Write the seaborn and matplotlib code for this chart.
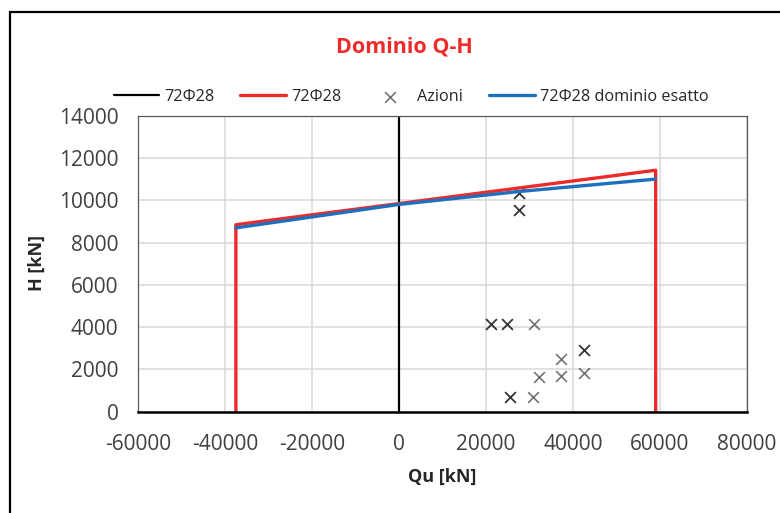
import matplotlib
matplotlib.use("Agg")
import matplotlib.pyplot as plt
import matplotlib.patches as patches
import seaborn as sns
import pandas as pd

# asse verticale (serie nera)
asse_q = [0, 0]
asse_h = [0, 14000]

# dominio semplificato 72Φ28
dom_q = [-37500, -37500, 59000, 59000]
dom_h = [0, 8850, 11430, 0]

# dominio esatto 72Φ28
esatto_q = [-37500, 0, 27500, 59000]
esatto_h = [8700, 9810, 10420, 11010]

# azioni (alcune coppie coincidono e si vedono piu' scure)
azioni_q = [21150, 21150, 24760, 24760, 31140, 42450, 42450, 37300, 32070,
            37300, 42450, 25610, 25610, 30910, 27520, 27520, 27520, 27520]
azioni_h = [4150, 4150, 4150, 4150, 4150, 2915, 2915, 2474, 1650,
            1683, 1810, 673, 673, 700, 10340, 10340, 9550, 9550]

xticks = list(range(-60000, 80001, 20000))
yticks = list(range(0, 14001, 2000))

sns.set_style("white")
plt.rcParams["font.family"] = ["Open Sans", "DejaVu Sans"]
plt.rcParams["axes.unicode_minus"] = False

fig = plt.figure(figsize=(7.8, 5.13), dpi=100)
ax = fig.add_axes([138 / 780, 1 - 411.5 / 513, 609 / 780, 295.5 / 513])

df_asse = pd.DataFrame({"Q": asse_q, "H": asse_h})
df_dom = pd.DataFrame({"Q": dom_q, "H": dom_h})
df_esatto = pd.DataFrame({"Q": esatto_q, "H": esatto_h})
df_az = pd.DataFrame({"Q": azioni_q, "H": azioni_h})

sns.lineplot(data=df_asse, x="Q", y="H", sort=False, estimator=None, color="black",
             linewidth=1.6, label="72Φ28", ax=ax)
sns.lineplot(data=df_dom, x="Q", y="H", sort=False, estimator=None, color="#ee2a2a",
             linewidth=2.4, label="72Φ28", ax=ax)
sns.scatterplot(data=df_az, x="Q", y="H", marker="x", color="black", alpha=0.55,
                s=60, linewidth=1.2, label="Azioni", ax=ax)
sns.lineplot(data=df_esatto, x="Q", y="H", sort=False, estimator=None, color="#1f6fbf",
             linewidth=2.4, label="72Φ28 dominio esatto", ax=ax)

ax.set_xlim(-60000, 80000)
ax.set_ylim(0, 14000)
ax.set_xticks(xticks)
ax.set_yticks(yticks)
ax.tick_params(axis="both", length=0, labelsize=15, colors="#404040")
ax.tick_params(axis="x", pad=16)
ax.tick_params(axis="y", pad=14)
ax.grid(True, color="#d9d9d9", linewidth=1.1)
ax.set_axisbelow(True)
for side in ["left", "top", "right"]:
    ax.spines[side].set_color("#595959")
    ax.spines[side].set_linewidth(0.9)
ax.spines["bottom"].set_color("black")
ax.spines["bottom"].set_linewidth(1.8)

ax.set_xlabel("Qu [kN]", fontsize=13, fontweight="bold", color="#262626")
ax.set_ylabel("H [kN]", fontsize=13, fontweight="bold", color="#262626")
ax.xaxis.set_label_coords(0.5, -0.19)
ax.yaxis.set_label_coords(-0.152, 0.502)

ax.legend(loc="center", bbox_to_anchor=(411 / 780, 1 - 97 / 513),
          bbox_transform=fig.transFigure, ncol=4, frameon=False, fontsize=11.7,
          handlelength=2.8, columnspacing=1.6, handletextpad=0.3)

fig.text(404 / 780, 1 - 47 / 513, "Dominio Q-H", ha="center", va="center",
         fontsize=15.5, fontweight="bold", color="#ee2a2a")

# bordo dell'area grafico
fig.patches.append(patches.Rectangle((10 / 780, -0.1), 1.2, 1.1 - 12 / 513,
                                     transform=fig.transFigure, fill=False,
                                     edgecolor="black", linewidth=1.6))

fig.savefig("out.png", dpi=100)
